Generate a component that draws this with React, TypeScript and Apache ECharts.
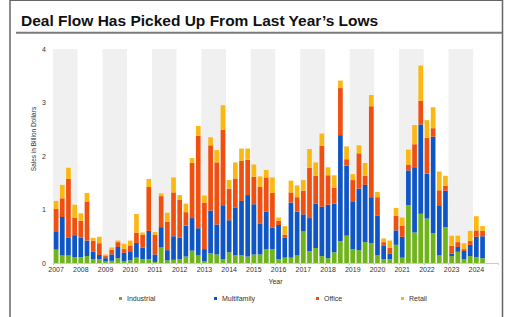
import React, { useEffect, useRef } from "react";
import * as echarts from "echarts";

const years = ["2007","2008","2009","2010","2011","2012","2013","2014","2015","2016","2017","2018","2019","2020","2021","2022","2023","2024"];
const quarters = ["Q1", "Q2", "Q3", "Q4"];
const categories = years.flatMap((y) => quarters.map((q) => `${y} ${q}`));

const industrial = [0.25,0.14,0.14,0.11, 0.11,0.13,0.07,0.07, 0.03,0.04,0.09,0.03, 0.05,0.10,0.07,0.07, 0.02,0.29,0.05,0.06, 0.07,0.12,0.23,0.14, 0.03,0.18,0.16,0.07, 0.20,0.15,0.15,0.12, 0.16,0.16,0.26,0.26, 0.07,0.10,0.10,0.14, 0.59,0.22,0.28,0.13, 0.09,0.20,0.41,0.51, 0.26,0.24,0.39,0.37, 0.15,0.07,0.07,0.34, 0.10,1.08,0.57,0.92, 0.83,0.56,0.14,0.67, 0.13,0.21,0.07,0.13, 0.11,0.09];
const multifamily = [0.33,0.72,0.33,0.41, 0.36,0.29,0.14,0.08, 0.06,0.12,0.21,0.16, 0.17,0.275,0.22,0.53, 0.14,0.38,0.19,0.44, 0.40,0.58,0.61,0.51, 0.23,0.80,0.56,1.01, 0.60,0.89,1.01,1.15, 0.94,0.58,0.70,0.40, 0.64,0.37,1.03,0.82, 0.32,0.62,0.83,0.92, 1.00,0.91,1.98,1.31, 0.88,1.15,1.07,0.86, 0.74,0.26,0.11,0.27, 0.39,0.65,1.22,1.67, 0.84,1.80,0.94,0.68, 0.045,0.09,0.155,0.21, 0.38,0.41];
const office = [0.43,0.35,1.10,0.33, 0.32,0.73,0.21,0.22, 0.04,0.09,0.09,0.07, 0.11,0.19,0.24,0.82, 0.37,0.58,0.53,0.82, 0.71,0.25,1.03,1.73, 0.87,1.22,1.16,1.41, 0.59,0.54,0.75,0.66, 0.51,0.68,0.64,0.65, 0.08,0.06,0.19,0.27, 0.44,0.94,0.52,1.14, 0.55,0.30,0.88,0.12, 0.41,0.66,0.17,1.70, 0.34,0.06,0.10,0.27, 0.21,0.11,0.43,0.44, 0.67,0.16,0.28,0.09, 0.15,0.09,0.035,0.07, 0.12,0.10];
const retail = [0.15,0.25,0.21,0.24, 0.14,0.16,0.05,0.12, 0.03,0.04,0.03,0.10, 0.09,0.35,0.04,0.15, 0.05,0.05,0.17,0.28, 0.09,0.16,0.09,0.18, 0.13,0.15,0.23,0.46, 0.16,0.30,0.23,0.21, 0.23,0.20,0.14,0.29, 0.06,0.16,0.22,0.22, 0.20,0.35,0.25,0.23, 0.15,0.23,0.14,0.24, 0.11,0.15,0.24,0.21, 0.10,0.07,0.14,0.15, 0.15,0.28,0.36,0.66, 0.33,0.39,0.35,0.19, 0.185,0.12,0.11,0.19, 0.265,0.09];

const seriesNames = ["Industrial", "Multifamily", "Office", "Retail"];
const seriesColors = ["#70b41c", "#0e55c6", "#f04f10", "#fbb812"];
const seriesData = [industrial, multifamily, office, retail];
const legendLefts = [119, 214, 316, 401];

const FONT = "'Liberation Sans', Arial, sans-serif";

export default function App() {
  const ref = useRef<HTMLDivElement>(null);
  useEffect(() => {
    if (!ref.current) return;
    const chart = echarts.init(ref.current, null, { renderer: "svg" });
    chart.setOption({
      animation: false,
      backgroundColor: "#ffffff",
      textStyle: { fontFamily: FONT },
      title: {
        text: "Deal Flow Has Picked Up From Last Year\u2019s Lows",
        left: 16,
        top: 7,
        textStyle: { fontSize: 15.5, fontWeight: "bold", color: "#111", fontFamily: FONT },
      },
      legend: seriesNames.map((n, i) => ({
        data: [n],
        left: legendLefts[i],
        top: 295,
        itemWidth: 3,
        itemHeight: 3,
        icon: "rect",
        padding: 0,
        textStyle: { fontSize: 7, color: "#333", fontFamily: FONT },
      })),
      grid: { left: 53, right: 12, top: 49, bottom: 54, containLabel: false },
      xAxis: {
        type: "category",
        data: categories,
        name: "Year",
        nameLocation: "middle",
        nameGap: 15,
        nameTextStyle: { fontSize: 7, color: "#333", fontFamily: FONT },
        axisLine: { show: true, lineStyle: { color: "#cccccc", width: 1 } },
        axisTick: { show: true, interval: 3, length: 2, lineStyle: { color: "#cccccc" } },
        axisLabel: {
          interval: 3,
          fontSize: 7,
          color: "#333",
          margin: 3,
          formatter: (v: string) => v.split(" ")[0],
        },
        splitArea: { show: true, interval: 3, areaStyle: { color: ["#f0f0f0", "#ffffff"] } },
        splitLine: { show: false },
      },
      yAxis: {
        type: "value",
        min: 0,
        max: 4,
        interval: 1,
        axisLine: { show: false },
        axisTick: { show: false },
        axisLabel: { fontSize: 7, color: "#333", margin: 7 },
        splitLine: { lineStyle: { color: "#e6e6e6", width: 1 } },
      },
      series: seriesNames.map((n, i) => ({
        name: n,
        type: "bar",
        stack: "total",
        data: seriesData[i],
        barCategoryGap: "24%",
        itemStyle: { color: seriesColors[i] },
      })),
      graphic: [
        { type: "line", shape: { x1: 10, y1: 0.5, x2: 503, y2: 0.5 }, style: { stroke: "#666", lineWidth: 1.2 } },
        { type: "line", shape: { x1: 10, y1: 0, x2: 10, y2: 317 }, style: { stroke: "#666", lineWidth: 1.5 } },
        { type: "line", shape: { x1: 502.5, y1: 0, x2: 502.5, y2: 317 }, style: { stroke: "#666", lineWidth: 1.5 } },
        { type: "line", shape: { x1: 16, y1: 32.7, x2: 502, y2: 32.7 }, style: { stroke: "#7a7a7a", lineWidth: 2 } },
        {
          type: "text",
          x: 33,
          y: 139,
          rotation: Math.PI / 2,
          style: {
            text: "Sales in Billion Dollars",
            fontSize: 6.5,
            fill: "#333",
            fontFamily: FONT,
            align: "center",
            verticalAlign: "middle",
          },
        },
      ],
    });
    return () => chart.dispose();
  }, []);
  return <div ref={ref} style={{ position: "absolute", left: 0, top: 0, width: 510, height: 317 }} />;
}
